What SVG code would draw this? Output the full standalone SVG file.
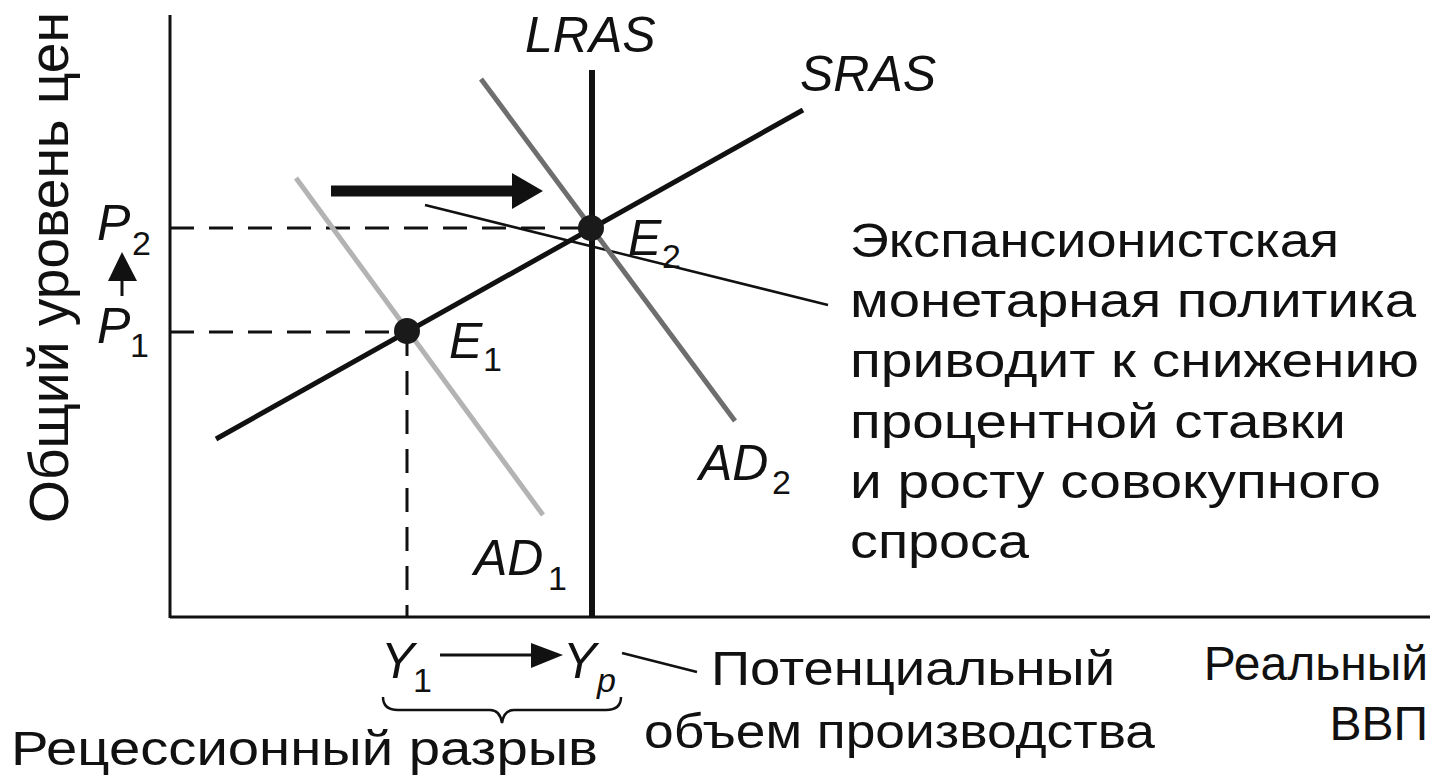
<svg xmlns="http://www.w3.org/2000/svg" width="1443" height="779" viewBox="0 0 1443 779">
  <style>
    .t { font-family: "Liberation Sans", Arial, sans-serif; fill: #111; }
    .it { font-family: "Liberation Sans", Arial, sans-serif; font-style: italic; fill: #111; }
    .lbl { font-size: 50px; }
    .sub { font-family: "Liberation Sans", Arial, sans-serif; font-size: 34px; fill: #111; }
    .body { font-size: 48px; }
    .ax { stroke: #111; stroke-width: 3; fill: none; }
    .dash { stroke: #111; stroke-width: 3; stroke-dasharray: 24 15; fill: none; }
    .thin { stroke: #111; stroke-width: 2.5; fill: none; }
    .dot { fill: #1a1a1a; }
    .head { fill: #111; }
  </style>
  <rect x="0" y="0" width="1443" height="779" fill="#ffffff"/>

  <g id="axes">
    <line class="ax" x1="170" y1="15" x2="170" y2="618"/>
    <line class="ax" x1="170" y1="617" x2="1430" y2="617"/>
  </g>

  <g id="connectors">
    <line class="dash" x1="170" y1="228" x2="590" y2="228"/>
    <line class="dash" x1="170" y1="332" x2="406" y2="332"/>
    <line class="dash" x1="407" y1="332" x2="407" y2="617"/>
    <line class="thin" x1="425" y1="205" x2="828" y2="305"/>
    <line class="thin" x1="622" y1="653" x2="697" y2="672"/>
    <line x1="331" y1="191" x2="516" y2="191" stroke="#111" stroke-width="11"/>
    <polygon class="head" points="512,173 543,191 512,209"/>
    <line x1="122" y1="296" x2="122" y2="278" stroke="#111" stroke-width="3"/>
    <polygon class="head" points="108,281 122,252 137,281"/>
    <line x1="440" y1="655" x2="534" y2="655" stroke="#111" stroke-width="3"/>
    <polygon class="head" points="531,643 563,655 531,668"/>
    <path class="thin" d="M383,697 Q383,710 398,710 L490,710 Q500,710 502,723 Q504,710 514,710 L606,710 Q621,710 621,697"/>
  </g>

  <g id="AD1">
    <line x1="296" y1="178" x2="543" y2="515" stroke="#b3b3b3" stroke-width="5"/>
    <text class="it lbl" x="474" y="575">AD</text>
    <text class="sub" x="548" y="590">1</text>
  </g>
  <g id="AD2">
    <line x1="481" y1="79" x2="735" y2="421" stroke="#6e6e6e" stroke-width="5"/>
    <text class="it lbl" x="699" y="480">AD</text>
    <text class="sub" x="772" y="494">2</text>
  </g>
  <g id="LRAS">
    <line x1="592" y1="70" x2="592" y2="617" stroke="#111" stroke-width="6"/>
    <text class="it lbl" x="525" y="52">LRAS</text>
  </g>
  <g id="SRAS">
    <line x1="216" y1="439" x2="803" y2="110" stroke="#111" stroke-width="5"/>
    <text class="it lbl" x="800" y="91">SRAS</text>
  </g>
  <g id="E1">
    <circle class="dot" cx="407" cy="331" r="13"/>
    <text class="it lbl" x="449" y="358">E</text>
    <text class="sub" x="483" y="371">1</text>
  </g>
  <g id="E2">
    <circle class="dot" cx="591" cy="228" r="13"/>
    <text class="it lbl" x="628" y="255">E</text>
    <text class="sub" x="662" y="268">2</text>
  </g>
  <g id="P-labels">
    <text class="it lbl" x="97" y="240">P</text>
    <text class="sub" x="132" y="255">2</text>
    <text class="it lbl" x="97" y="343">P</text>
    <text class="sub" x="130" y="357">1</text>
  </g>
  <g id="Y-labels">
    <text class="it lbl" x="381" y="678">Y</text>
    <text class="sub" x="413" y="692">1</text>
    <text class="it lbl" x="563" y="678">Y</text>
    <text class="it sub" x="597" y="692">p</text>
  </g>

  <g id="y-axis-title">
    <text class="t" font-size="55" transform="translate(68,523) rotate(-90)" x="0" y="0" textLength="511" lengthAdjust="spacingAndGlyphs">Общий уровень цен</text>
  </g>
  <g id="x-axis-title">
    <text class="t body" x="1428" y="680" text-anchor="end">Реальный</text>
    <text class="t body" x="1428" y="740" text-anchor="end">ВВП</text>
  </g>
  <g id="potential-label">
    <text class="t body" x="711" y="685" textLength="404" lengthAdjust="spacingAndGlyphs">Потенциальный</text>
    <text class="t body" x="644" y="748" textLength="511" lengthAdjust="spacingAndGlyphs">объем производства</text>
  </g>
  <g id="gap-label">
    <text class="t body" x="11" y="765" textLength="587" lengthAdjust="spacingAndGlyphs">Рецессионный разрыв</text>
  </g>
  <g id="policy-note">
    <text class="t body" x="850" y="257" textLength="489" lengthAdjust="spacingAndGlyphs">Экспансионистская</text>
    <text class="t body" x="850" y="317" textLength="566" lengthAdjust="spacingAndGlyphs">монетарная политика</text>
    <text class="t body" x="850" y="377" textLength="569" lengthAdjust="spacingAndGlyphs">приводит к снижению</text>
    <text class="t body" x="850" y="438" textLength="496" lengthAdjust="spacingAndGlyphs">процентной ставки</text>
    <text class="t body" x="850" y="498" textLength="531" lengthAdjust="spacingAndGlyphs">и росту совокупного</text>
    <text class="t body" x="850" y="558" textLength="179" lengthAdjust="spacingAndGlyphs">спроса</text>
  </g>
</svg>
